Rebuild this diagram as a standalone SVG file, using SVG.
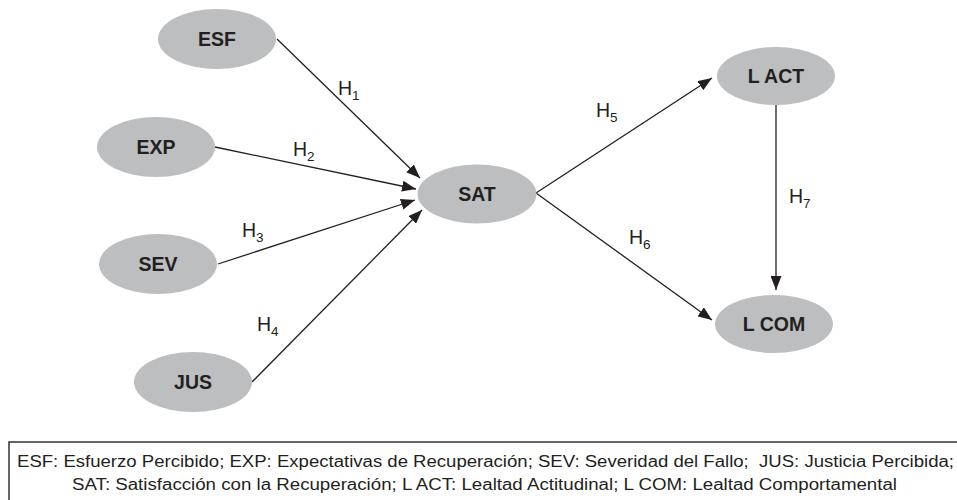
<svg xmlns="http://www.w3.org/2000/svg" width="957" height="500" viewBox="0 0 957 500">
<style>
  .node ellipse { fill: #bcbec0; }
  .node text { font-family: "Liberation Sans", Arial, sans-serif; font-weight: bold; font-size: 19.5px; fill: #231f20; text-anchor: middle; }
  .conn line { stroke: #231f20; stroke-width: 1.3; marker-end: url(#arrow); }
  .lbl { font-family: "Liberation Sans", Arial, sans-serif; font-size: 19.5px; fill: #231f20; }
  .sub { font-size: 13.5px; }
  .legend text { font-family: "Liberation Sans", Arial, sans-serif; font-size: 16px; fill: #231f20; }
</style>
<defs>
  <marker id="arrow" markerUnits="userSpaceOnUse" markerWidth="14" markerHeight="11" refX="14" refY="5.5" orient="auto">
    <path d="M0,0 L14,5.5 L0,11 z" fill="#231f20"/>
  </marker>
</defs>
<rect width="957" height="500" fill="#ffffff"/>
<g id="connectors" class="conn">
  <line x1="277" y1="39" x2="420" y2="178"/>
  <line x1="215" y1="147" x2="416" y2="189"/>
  <line x1="218" y1="264" x2="415" y2="200"/>
  <line x1="252" y1="382" x2="422" y2="210"/>
  <line x1="536" y1="193" x2="712" y2="78"/>
  <line x1="536" y1="193" x2="712" y2="320"/>
  <line x1="776" y1="105" x2="776" y2="290"/>
</g>
<g id="labels">
  <text class="lbl" x="338" y="95">H<tspan class="sub" dy="5">1</tspan></text>
  <text class="lbl" x="293" y="156">H<tspan class="sub" dy="5">2</tspan></text>
  <text class="lbl" x="242" y="237">H<tspan class="sub" dy="5">3</tspan></text>
  <text class="lbl" x="257" y="331">H<tspan class="sub" dy="5">4</tspan></text>
  <text class="lbl" x="596" y="117">H<tspan class="sub" dy="5">5</tspan></text>
  <text class="lbl" x="629" y="244">H<tspan class="sub" dy="5">6</tspan></text>
  <text class="lbl" x="789" y="203">H<tspan class="sub" dy="5">7</tspan></text>
</g>
<g id="ESF" class="node"><ellipse cx="217" cy="39" rx="59" ry="30"/><text x="217" y="46">ESF</text></g>
<g id="EXP" class="node"><ellipse cx="156" cy="147" rx="59" ry="30"/><text x="156" y="154">EXP</text></g>
<g id="SEV" class="node"><ellipse cx="158" cy="264" rx="59" ry="30"/><text x="158" y="271">SEV</text></g>
<g id="JUS" class="node"><ellipse cx="193" cy="382" rx="59" ry="30"/><text x="193" y="389">JUS</text></g>
<g id="SAT" class="node"><ellipse cx="477" cy="194" rx="59.5" ry="29.5"/><text x="477" y="201">SAT</text></g>
<g id="LACT" class="node"><ellipse cx="776" cy="76" rx="59" ry="29"/><text x="776" y="83">L ACT</text></g>
<g id="LCOM" class="node"><ellipse cx="774" cy="324" rx="59" ry="29"/><text x="774" y="331">L COM</text></g>
<g id="legend" class="legend">
  <rect x="9" y="442" width="960" height="70" fill="none" stroke="#333333" stroke-width="1.5"/>
  <text x="17" y="467" textLength="937" lengthAdjust="spacingAndGlyphs" xml:space="preserve">ESF: Esfuerzo Percibido; EXP: Expectativas de Recuperación; SEV: Severidad del Fallo;  JUS: Justicia Percibida;</text>
  <text x="72" y="490" textLength="825" lengthAdjust="spacingAndGlyphs">SAT: Satisfacción con la Recuperación; L ACT: Lealtad Actitudinal; L COM: Lealtad Comportamental</text>
</g>
</svg>
